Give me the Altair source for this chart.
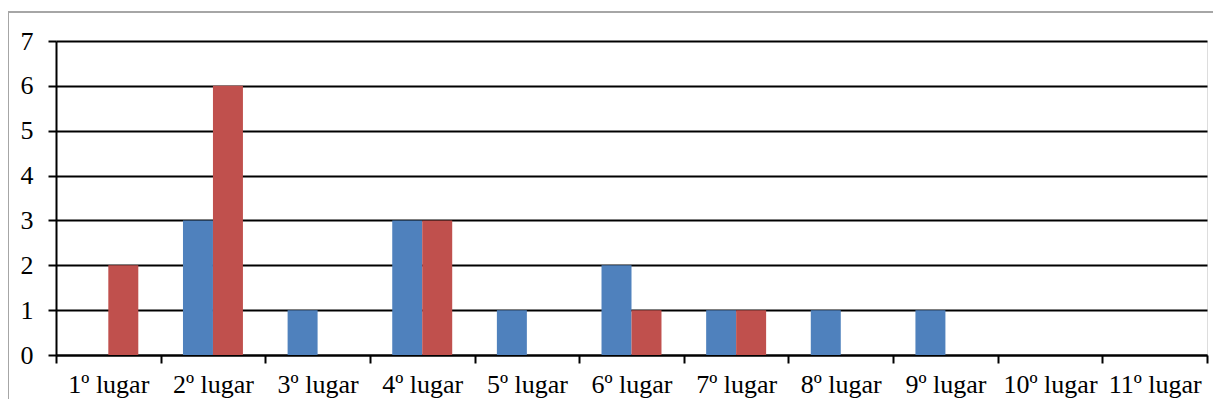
import altair as alt
import pandas as pd

categories = ["1º lugar", "2º lugar", "3º lugar", "4º lugar", "5º lugar", "6º lugar",
              "7º lugar", "8º lugar", "9º lugar", "10º lugar", "11º lugar"]
series_names = ["Série 1", "Série 2"]
blue_values = [0, 3, 1, 3, 1, 2, 1, 1, 1, 0, 0]
red_values = [2, 6, 0, 3, 0, 1, 1, 0, 0, 0, 0]
colors = ["#4F81BD", "#C0504D"]
y_ticks = [0, 1, 2, 3, 4, 5, 6, 7]

rows = []
for c, b, r in zip(categories, blue_values, red_values):
    rows.append({"cat": c, "serie": series_names[0], "v": b})
    rows.append({"cat": c, "serie": series_names[1], "v": r})
df = pd.DataFrame(rows)

W, H = 1151, 314
FONT = "Liberation Serif"

bars = alt.Chart(df).mark_bar().encode(
    x=alt.X("cat:N", sort=categories,
            scale=alt.Scale(paddingInner=0, paddingOuter=0),
            axis=alt.Axis(title=None, labelAngle=0, tickBand="extent", grid=False,
                          domainColor="black", domainWidth=2, tickColor="black",
                          tickWidth=2, tickSize=8, labelPadding=8,
                          labelFont=FONT, labelFontSize=26, labelColor="black")),
    xOffset=alt.XOffset("serie:N", sort=series_names,
                        scale=alt.Scale(paddingInner=0, paddingOuter=0.745)),
    y=alt.Y("v:Q", scale=alt.Scale(domain=[0, 7], nice=False),
            axis=alt.Axis(title=None, values=y_ticks, grid=True, gridColor="black",
                          gridWidth=2, gridOpacity=1, domainColor="black", domainWidth=2,
                          tickColor="black", tickWidth=2, tickSize=8, labelPadding=15,
                          labelFont=FONT, labelFontSize=26, labelColor="black")),
    color=alt.Color("serie:N", sort=series_names,
                    scale=alt.Scale(domain=series_names, range=colors), legend=None),
)

border_left = alt.Chart().mark_rule(color="#A6A6A6", strokeWidth=2, clip=False).encode(
    x=alt.value(-48), y=alt.value(-29), y2=alt.value(400))
border_top = alt.Chart().mark_rule(color="#A6A6A6", strokeWidth=2, clip=False).encode(
    x=alt.value(-48), x2=alt.value(1200), y=alt.value(-29))

chart = alt.layer(bars, border_left, border_top).properties(
    width=W, height=H,
    autosize=alt.AutoSizeParams(type="none"),
    padding={"left": 48, "top": 33, "right": 6, "bottom": 44},
).configure_view(stroke=None).configure(background="white")

chart.save("out.html", embed_options={"renderer": "svg", "actions": False})
